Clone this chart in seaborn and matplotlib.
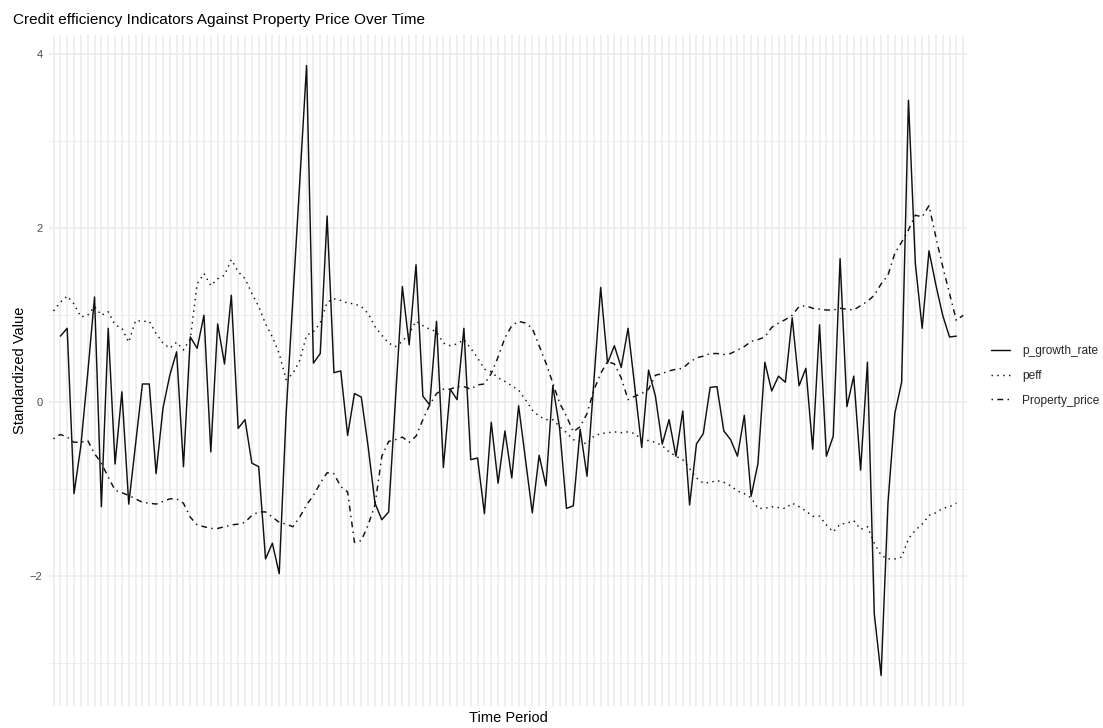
import numpy as np
import pandas as pd
import matplotlib
matplotlib.use("Agg")
import matplotlib.pyplot as plt
import seaborn as sns

# Standardized series (one value per time period)
nan = np.nan
p_growth_rate = [
    nan, 0.76, 0.85, -1.05, -0.50, 0.33, 1.21, -1.20, 0.85, -0.71,
    0.12, -1.17, -0.48, 0.21, 0.21, -0.82, -0.07, 0.31, 0.58, -0.74,
    0.75, 0.62, 1.00, -0.57, 0.90, 0.44, 1.23, -0.30, -0.20, -0.70,
    -0.74, -1.80, -1.62, -1.97, -0.15, 1.19, 2.53, 3.87, 0.45, 0.56,
    2.14, 0.34, 0.36, -0.38, 0.10, 0.06, -0.51, -1.16, -1.35, -1.26,
    0.03, 1.33, 0.66, 1.58, 0.07, -0.03, 0.93, -0.75, 0.15, 0.03,
    0.85, -0.66, -0.64, -1.28, -0.23, -0.93, -0.33, -0.87, -0.04, -0.66,
    -1.27, -0.61, -0.96, 0.19, -0.30, -1.22, -1.19, -0.31, -0.85, 0.23,
    1.32, 0.45, 0.65, 0.40, 0.85, 0.17, -0.52, 0.37, 0.07, -0.48,
    -0.20, -0.62, -0.10, -1.18, -0.48, -0.36, 0.17, 0.18, -0.33, -0.43,
    -0.62, -0.15, -1.08, -0.70, 0.46, 0.13, 0.30, 0.23, 0.97, 0.19,
    0.39, -0.54, 0.89, -0.62, -0.39, 1.65, -0.05, 0.30, -0.78, 0.46,
    -2.43, -3.14, -1.16, -0.13, 0.23, 3.47, 1.60, 0.85, 1.74, 1.35,
    1.00, 0.75, 0.76, nan,
]
peff = [
    1.05, 1.15, 1.22, 1.13, 0.98, 1.00, 1.10, 1.00, 1.04, 0.89,
    0.85, 0.69, 0.94, 0.93, 0.93, 0.79, 0.68, 0.62, 0.69, 0.60,
    0.73, 1.36, 1.48, 1.34, 1.42, 1.46, 1.64, 1.50, 1.42, 1.25,
    1.10, 0.90, 0.75, 0.56, 0.26, 0.33, 0.48, 0.77, 0.81, 0.91,
    1.15, 1.19, 1.17, 1.14, 1.13, 1.10, 1.02, 0.87, 0.77, 0.68,
    0.64, 0.70, 0.79, 0.93, 0.88, 0.84, 0.81, 0.68, 0.65, 0.67,
    0.72, 0.62, 0.51, 0.38, 0.35, 0.28, 0.24, 0.19, 0.14, 0.03,
    -0.09, -0.16, -0.20, -0.20, -0.28, -0.35, -0.43, -0.45, -0.48, -0.39,
    -0.36, -0.35, -0.34, -0.35, -0.34, -0.36, -0.43, -0.44, -0.46, -0.50,
    -0.57, -0.62, -0.66, -0.76, -0.87, -0.93, -0.92, -0.90, -0.92, -0.96,
    -1.02, -1.05, -1.10, -1.22, -1.22, -1.20, -1.21, -1.22, -1.16, -1.20,
    -1.25, -1.31, -1.31, -1.41, -1.49, -1.40, -1.39, -1.36, -1.46, -1.43,
    -1.62, -1.76, -1.80, -1.80, -1.78, -1.57, -1.47, -1.40, -1.30, -1.27,
    -1.22, -1.20, -1.16, nan,
]
property_price = [
    -0.42, -0.37, -0.40, -0.46, -0.46, -0.44, -0.59, -0.70, -0.86, -1.01,
    -1.04, -1.07, -1.11, -1.15, -1.16, -1.17, -1.14, -1.11, -1.11, -1.16,
    -1.32, -1.41, -1.43, -1.45, -1.45, -1.43, -1.41, -1.40, -1.38, -1.30,
    -1.26, -1.26, -1.32, -1.38, -1.40, -1.43, -1.32, -1.18, -1.07, -0.93,
    -0.81, -0.82, -0.97, -1.03, -1.61, -1.59, -1.41, -1.18, -0.62, -0.45,
    -0.43, -0.40, -0.46, -0.39, -0.20, -0.03, 0.10, 0.15, 0.15, 0.18,
    0.18, 0.15, 0.20, 0.21, 0.33, 0.52, 0.74, 0.88, 0.93, 0.91,
    0.85, 0.65, 0.45, 0.22, -0.01, -0.16, -0.34, -0.28, -0.13, 0.14,
    0.33, 0.47, 0.44, 0.28, 0.03, 0.07, 0.10, 0.15, 0.31, 0.33,
    0.36, 0.38, 0.39, 0.46, 0.51, 0.53, 0.56, 0.56, 0.55, 0.56,
    0.60, 0.64, 0.70, 0.72, 0.75, 0.86, 0.91, 0.95, 1.00, 1.10,
    1.11, 1.08, 1.07, 1.06, 1.06, 1.08, 1.07, 1.06, 1.11, 1.16,
    1.23, 1.36, 1.46, 1.71, 1.84, 1.98, 2.15, 2.13, 2.26, 1.90,
    1.56, 1.25, 0.94, 1.00,
]
period = np.arange(1, len(property_price) + 1)
series_names = ["p_growth_rate", "peff", "Property_price"]

df = pd.DataFrame({
    "period": period,
    "p_growth_rate": p_growth_rate,
    "peff": peff,
    "Property_price": property_price,
})
long_df = df.melt(id_vars="period", var_name="variable", value_name="value").dropna()

sns.set_theme(style="white")
plt.rcParams["font.family"] = ["Liberation Sans", "DejaVu Sans"]

W, H = 1103, 728
fig = plt.figure(figsize=(W / 100, H / 100), dpi=100)
# panel placement in pixels
pl, pr, pt, pb = 49.4, 967.3, 35, 706
ax = fig.add_axes([pl / W, 1 - pb / H, (pr - pl) / W, (pb - pt) / H])

sns.lineplot(
    data=long_df, x="period", y="value", style="variable",
    style_order=series_names,
    dashes={"p_growth_rate": "", "peff": (1, 3), "Property_price": (1, 3, 4, 3)},
    color="#111111", linewidth=1.05, ax=ax, legend="full", sort=True,
)

# ggplot-like discrete x scale and expanded y scale
ax.set_xlim(period[0] - 0.6, period[-1] + 0.6)
vals = long_df["value"]
span = vals.max() - vals.min()
ax.set_ylim(vals.min() - 0.05 * span, vals.max() + 0.05 * span)

ax.set_xticks(period)
ax.set_xticklabels([])
ax.set_yticks([-2, 0, 2, 4])
ax.set_yticks([-3, -1, 1, 3], minor=True)
ax.tick_params(axis="both", which="both", length=0)
ax.tick_params(axis="y", labelsize=8, labelcolor="#4D4D4D", pad=5)
ax.grid(True, which="major", color="#EBEBEB", linewidth=1.1)
ax.grid(True, which="minor", axis="y", color="#EBEBEB", linewidth=0.6)
ax.set_axisbelow(True)
for s in ax.spines.values():
    s.set_visible(False)
ax.set_xlabel("")
ax.set_ylabel("")

# legend to the right, no title
handles, labels = ax.get_legend_handles_labels()
ax.get_legend().remove()
fig.legend(handles, labels, loc="center left", bbox_to_anchor=(991 / W, 1 - 376 / H),
           frameon=False, fontsize=8.6, handlelength=1.6, handletextpad=1.0,
           labelspacing=1.05, borderaxespad=0, borderpad=0)

fig.text(13 / W, 1 - 24 / H, "Credit efficiency Indicators Against Property Price Over Time",
         fontsize=11.1, ha="left", va="baseline", color="black")
fig.text(20 / W, 1 - ((pt + pb) / 2) / H, "Standardized Value", rotation=90,
         fontsize=10.5, ha="center", va="center", color="black")
fig.text(((pl + pr) / 2) / W, 1 - 718 / H, "Time Period",
         fontsize=10.5, ha="center", va="center", color="black")

fig.savefig("out.png", dpi=100, facecolor="white")
